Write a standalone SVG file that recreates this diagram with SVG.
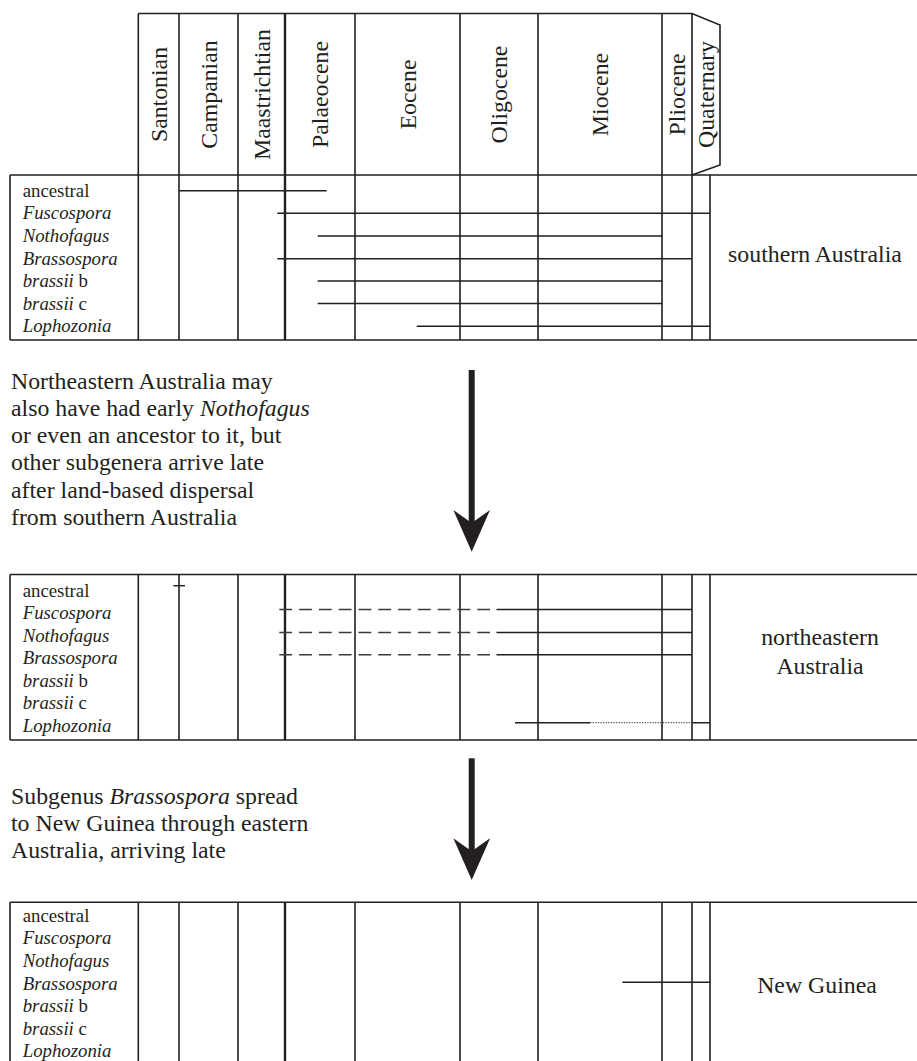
<svg xmlns="http://www.w3.org/2000/svg" width="917" height="1061" viewBox="0 0 917 1061" font-family="Liberation Serif, serif">
<style>
.t{font-family:'Liberation Serif',serif;fill:#231f20}
.lbl{font-size:18.8px}
.big{font-size:23.8px}
.hd{font-size:23.8px;text-anchor:middle;dominant-baseline:central}
.reg{font-size:23.8px;text-anchor:middle}
.fr{stroke:#231f20;stroke-width:1.6;fill:none}
.kpg{stroke:#231f20;stroke-width:2.4;fill:none}
.row{stroke:#231f20;stroke-width:1.4;fill:none}
.dash{stroke:#3a3a3a;stroke-width:1.4;stroke-dasharray:12.8 7;fill:none}
.dot{stroke:#555;stroke-width:1.2;stroke-dasharray:1.3 1.3;fill:none}
.shaft{stroke:#231f20;stroke-width:6;fill:none}
</style>
<defs>
<marker id="ah" markerUnits="userSpaceOnUse" markerWidth="42" markerHeight="37" viewBox="0 0 42 37" refX="13" refY="18.35" orient="auto">
<path d="M0,0 L41.7,18.35 L0,36.7 L13,18.35 z" fill="#231f20"/>
</marker>
</defs>
<rect width="917" height="1061" fill="#fff"/>

<g id="header">
<path class="fr" d="M138.3,13.5 H692 L720,25 V165 L692,175"/>
<path class="fr" d="M138.3,13.5 V175 M179,13.5 V175 M238,13.5 V175 M355,13.5 V175 M460,13.5 V175 M538,13.5 V175 M662,13.5 V175 M692,13.5 V175"/>
<path class="kpg" d="M285,13.5 V175"/>
<g class="t hd">
<text transform="translate(158.6,94.5) rotate(-90)">Santonian</text>
<text transform="translate(208.5,94.5) rotate(-90)">Campanian</text>
<text transform="translate(261.5,94.5) rotate(-90)">Maastrichtian</text>
<text transform="translate(320,94.5) rotate(-90)">Palaeocene</text>
<text transform="translate(407.5,94.5) rotate(-90)">Eocene</text>
<text transform="translate(499,94.5) rotate(-90)">Oligocene</text>
<text transform="translate(600,94.5) rotate(-90)">Miocene</text>
<text transform="translate(677,94.5) rotate(-90)">Pliocene</text>
<text transform="translate(706,94.5) rotate(-90)">Quaternary</text>
</g>
</g>

<g id="table-southern-australia">
<path class="fr" d="M10,175 H917 M10,340 H917 M10,175 V340 M138.3,175 V340 M179,175 V340 M238,175 V340 M355,175 V340 M460,175 V340 M538,175 V340 M662,175 V340 M692,175 V340 M710,175 V340"/>
<path class="kpg" d="M285,175 V340"/>
<path class="row" d="M179,190.7 H326.7 M277.3,213.3 H710 M317.7,236 H662.3 M277.3,258.7 H692.3 M317.7,281 H662.3 M317.7,303.5 H662.3 M416.7,326.3 H710"/>
<g class="t lbl">
<text x="22.7" y="196.7">ancestral</text>
<text x="22.7" y="219.3" font-style="italic">Fuscospora</text>
<text x="22.7" y="241.9" font-style="italic">Nothofagus</text>
<text x="22.7" y="264.5" font-style="italic">Brassospora</text>
<text x="22.7" y="287.1"><tspan font-style="italic">brassii</tspan> b</text>
<text x="22.7" y="309.7"><tspan font-style="italic">brassii</tspan> c</text>
<text x="22.7" y="332.3" font-style="italic">Lophozonia</text>
</g>
<text class="t reg" x="815" y="261.7">southern Australia</text>
</g>

<g id="note-1" class="t big">
<text x="11" y="388.5">Northeastern Australia may</text>
<text x="11" y="415.8">also have had early <tspan font-style="italic">Nothofagus</tspan></text>
<text x="11" y="443.1">or even an ancestor to it, but</text>
<text x="11" y="470.4">other subgenera arrive late</text>
<text x="11" y="497.7">after land-based dispersal</text>
<text x="11" y="525">from southern Australia</text>
</g>

<g id="table-northeastern-australia">
<path class="fr" d="M10,574.5 H917 M10,740 H917 M10,574.5 V740 M138.3,574.5 V740 M179,574.5 V740 M238,574.5 V740 M355,574.5 V740 M460,574.5 V740 M538,574.5 V740 M662,574.5 V740 M692,574.5 V740 M710,574.5 V740"/>
<path class="kpg" d="M285,574.5 V740"/>
<path class="row" d="M173.3,585.7 H185"/>
<path class="dash" d="M279.3,609.5 H490 M279.3,632.5 H490 M279.3,654.8 H490"/>
<path class="row" d="M496.5,609.5 H692 M496.5,632.5 H692 M496.5,654.8 H692 M515,722.7 H590 M692,722.7 H710"/>
<path class="dot" d="M590,722.7 H692"/>
<g class="t lbl">
<text x="22.7" y="596.7">ancestral</text>
<text x="22.7" y="619.2" font-style="italic">Fuscospora</text>
<text x="22.7" y="641.7" font-style="italic">Nothofagus</text>
<text x="22.7" y="664.2" font-style="italic">Brassospora</text>
<text x="22.7" y="686.7"><tspan font-style="italic">brassii</tspan> b</text>
<text x="22.7" y="709.2"><tspan font-style="italic">brassii</tspan> c</text>
<text x="22.7" y="731.7" font-style="italic">Lophozonia</text>
</g>
<g class="t reg">
<text x="820" y="645">northeastern</text>
<text x="820" y="673.5">Australia</text>
</g>
</g>

<g id="note-2" class="t big">
<text x="11" y="803.5">Subgenus <tspan font-style="italic">Brassospora</tspan> spread</text>
<text x="11" y="830.8">to New Guinea through eastern</text>
<text x="11" y="858">Australia, arriving late</text>
</g>

<g id="table-new-guinea">
<path class="fr" d="M10,902.3 H917 M10,902.3 V1061 M138.3,902.3 V1061 M179,902.3 V1061 M238,902.3 V1061 M355,902.3 V1061 M460,902.3 V1061 M538,902.3 V1061 M662,902.3 V1061 M692,902.3 V1061 M710,902.3 V1061"/>
<path class="kpg" d="M285,902.3 V1061"/>
<path class="row" d="M622.3,982.3 H710"/>
<g class="t lbl">
<text x="22.7" y="921.7">ancestral</text>
<text x="22.7" y="944.3" font-style="italic">Fuscospora</text>
<text x="22.7" y="966.9" font-style="italic">Nothofagus</text>
<text x="22.7" y="989.5" font-style="italic">Brassospora</text>
<text x="22.7" y="1012.1"><tspan font-style="italic">brassii</tspan> b</text>
<text x="22.7" y="1034.7"><tspan font-style="italic">brassii</tspan> c</text>
<text x="22.7" y="1057.3" font-style="italic">Lophozonia</text>
</g>
<text class="t reg" x="817" y="993.3">New Guinea</text>
</g>

<g id="connectors">
<line class="shaft" x1="471.7" y1="370" x2="471.7" y2="523" marker-end="url(#ah)"/>
<line class="shaft" x1="471.7" y1="758.3" x2="471.7" y2="851.3" marker-end="url(#ah)"/>
</g>
</svg>
